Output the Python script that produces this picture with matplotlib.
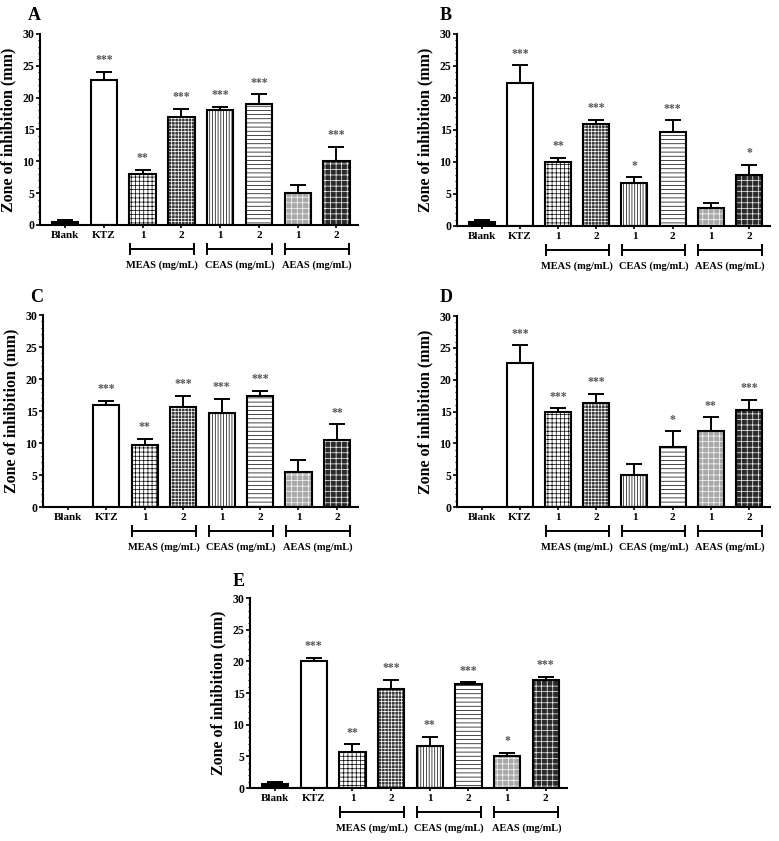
import numpy as np
import matplotlib.pyplot as plt
import matplotlib.transforms as mtransforms

plt.rcParams['font.family'] = ['Liberation Serif', 'DejaVu Serif']
plt.rcParams['font.weight'] = 'bold'
plt.rcParams['hatch.linewidth'] = 0.5

# bar labels
categories = ['Blank', 'KTZ', '1', '2', '1', '2', '1', '2']
groups = ['MEAS (mg/mL)', 'CEAS (mg/mL)', 'AEAS (mg/mL)']

# panel A
a_means = [0.4, 22.7, 8.0, 17.0, 18.0, 19.0, 5.0, 10.0]
a_errs = [0.4, 1.4, 0.6, 1.2, 0.6, 1.5, 1.2, 2.3]
a_sig = ['', '***', '**', '***', '***', '***', '', '***']

# panel B
b_means = [0.6, 22.3, 10.0, 16.0, 6.7, 14.7, 2.8, 8.0]
b_errs = [0.4, 2.8, 0.6, 0.6, 0.9, 1.8, 0.8, 1.5]
b_sig = ['', '***', '**', '***', '*', '***', '', '*']

# panel C
c_means = [0.0, 16.0, 9.7, 15.7, 14.7, 17.3, 5.4, 10.4]
c_errs = [0.0, 0.6, 0.9, 1.7, 2.2, 0.9, 2.0, 2.5]
c_sig = ['', '***', '**', '***', '***', '***', '', '**']

# panel D
d_means = [0.0, 22.7, 15.0, 16.4, 5.0, 9.4, 12.0, 15.3]
d_errs = [0.0, 2.7, 0.5, 1.4, 1.7, 2.5, 2.1, 1.5]
d_sig = ['', '***', '***', '***', '', '*', '**', '***']

# panel E
e_means = [0.6, 20.0, 5.7, 15.7, 6.7, 16.4, 5.0, 17.0]
e_errs = [0.4, 0.5, 1.2, 1.4, 1.4, 0.3, 0.6, 0.5]
e_sig = ['', '***', '**', '***', '**', '***', '*', '***']

# (facecolor, hatch, hatch colour) for each bar
styles = [('black', '', 'black'),
          ('white', '', 'black'),
          ('white', '++++', 'black'),
          ('#383838', '+++++', 'white'),
          ('white', '||||||', 'black'),
          ('white', '----', 'black'),
          ('#a8a8a8', '+++', 'white'),
          ('#2a2a2a', '+++', 'white')]


def draw_panel(fig, rect, means, errs, sig):
    ax = fig.add_axes(rect)
    x = np.arange(len(categories))
    w = 0.68
    ax.errorbar(x, means, yerr=[np.zeros(len(errs)), errs], fmt='none',
                ecolor='black', elinewidth=1.4, capsize=5.5, capthick=1.4, zorder=1)
    for i in range(len(x)):
        fc, h, hc = styles[i]
        if means[i] <= 0:
            continue
        ax.bar(x[i], means[i], w, color=fc, hatch=h, edgecolor=hc, linewidth=0, zorder=2)
        ax.bar(x[i], means[i], w, fill=False, edgecolor='black', linewidth=1.5, zorder=3)
        if sig[i]:
            ax.text(x[i], means[i] + errs[i] + 0.9, sig[i], ha='center', va='bottom',
                    fontsize=8.5, color='#555555')
    ax.set_xlim(-0.65, 7.55)
    ax.set_ylim(0, 30)
    ax.set_yticks(range(0, 31, 5))
    ax.set_yticks(range(0, 31, 1), minor=True)
    ax.set_xticks(x)
    ax.set_xticklabels(categories, fontsize=8)
    ax.tick_params(axis='y', labelsize=8.5, length=3, width=1.2, pad=1)
    ax.tick_params(axis='y', which='minor', length=1.5, width=0.8)
    ax.tick_params(axis='x', length=2.5, width=1.2, pad=2)
    for s in ['top', 'right']:
        ax.spines[s].set_visible(False)
    for s in ['left', 'bottom']:
        ax.spines[s].set_linewidth(1.5)
    ax.set_ylabel('Zone of inhibition (mm)', fontsize=11.5, fontweight='bold')
    ax.yaxis.set_label_coords(-0.075, 0.5)

    trans = mtransforms.blended_transform_factory(ax.transData, ax.transAxes)
    for g, name in enumerate(groups):
        x0 = 2 + 2 * g - 0.33
        x1 = 3 + 2 * g + 0.33
        ax.plot([x0, x1], [-0.125, -0.125], color='black', lw=1.4, transform=trans, clip_on=False)
        for xe in (x0, x1):
            ax.plot([xe, xe], [-0.10, -0.15], color='black', lw=1.4, transform=trans, clip_on=False)
        ax.text((x0 + x1) / 2, -0.21, name, ha='center', va='center', fontsize=7.5,
                transform=trans)
    return ax


panels = [
    ([0.0513, 0.7325, 0.408, 0.2271], 'A', a_means, a_errs, a_sig, (28, 15)),
    ([0.5866, 0.7313, 0.4018, 0.2283], 'B', b_means, b_errs, b_sig, (440, 15)),
    ([0.0552, 0.3971, 0.4044, 0.2283], 'C', c_means, c_errs, c_sig, (30, 297)),
    ([0.5866, 0.3971, 0.4018, 0.2271], 'D', d_means, d_errs, d_sig, (440, 297)),
    ([0.3209, 0.0630, 0.4069, 0.2259], 'E', e_means, e_errs, e_sig, (233, 582)),
]

fig = plt.figure(figsize=(7.79, 8.41), dpi=100)
for rect, letter, m, e, s, pos in panels:
    draw_panel(fig, rect, m, e, s)
    fig.text(pos[0] / 779, 1 - pos[1] / 841, letter, fontsize=13, fontweight='bold',
             ha='left', va='center')

fig.savefig('out.png', dpi=100)
